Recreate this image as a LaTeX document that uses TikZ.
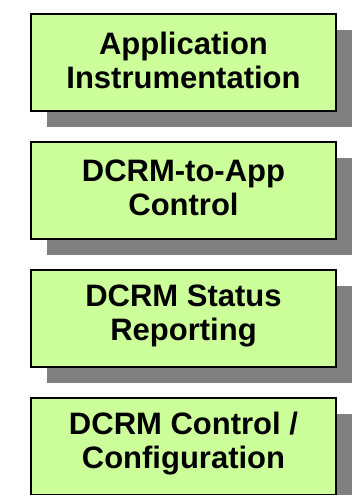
\documentclass[tikz,border=0pt]{standalone}
\usepackage{fontspec}
\setmainfont{Liberation Sans}
\usetikzlibrary{shadows}
\definecolor{boxgreen}{HTML}{CCFF99}
\definecolor{shadowgray}{HTML}{808080}
\tikzset{
  layerbox/.style={
    draw=black, line width=2pt, fill=boxgreen,
    minimum width=305pt, minimum height=97pt, inner sep=0pt,
    drop shadow={shadow xshift=16pt, shadow yshift=-16pt,
                 fill=shadowgray, opacity=1}
  },
  layertext/.style={
    inner sep=0pt, align=center,
    font=\fontsize{31}{34}\selectfont\bfseries
  }
}
\begin{document}
\begin{tikzpicture}[x=1pt,y=1pt]
  \useasboundingbox (0,0) rectangle (353,495);
  % four stacked layers, each a shadowed box with a two-line caption
  \node[layerbox] (instr)  at (183.5,432.5) {};
  \node[layerbox] (ctrl)   at (183.5,304.5) {};
  \node[layerbox] (status) at (183.5,176.5) {};
  \node[layerbox] (config) at (183.5,48.5)  {};
  \node[layertext] (instrT)  at ([yshift=2.5pt]instr.center)  {Application\\Instrumentation};
  \node[layertext] (ctrlT)   at ([yshift=2.5pt]ctrl.center)   {DCRM-to-App\\Control};
  \node[layertext] (statusT) at ([yshift=2.5pt]status.center) {DCRM Status\\Reporting};
  \node[layertext] (configT) at ([yshift=2.5pt]config.center) {DCRM Control /\\Configuration};
\end{tikzpicture}
\end{document}
